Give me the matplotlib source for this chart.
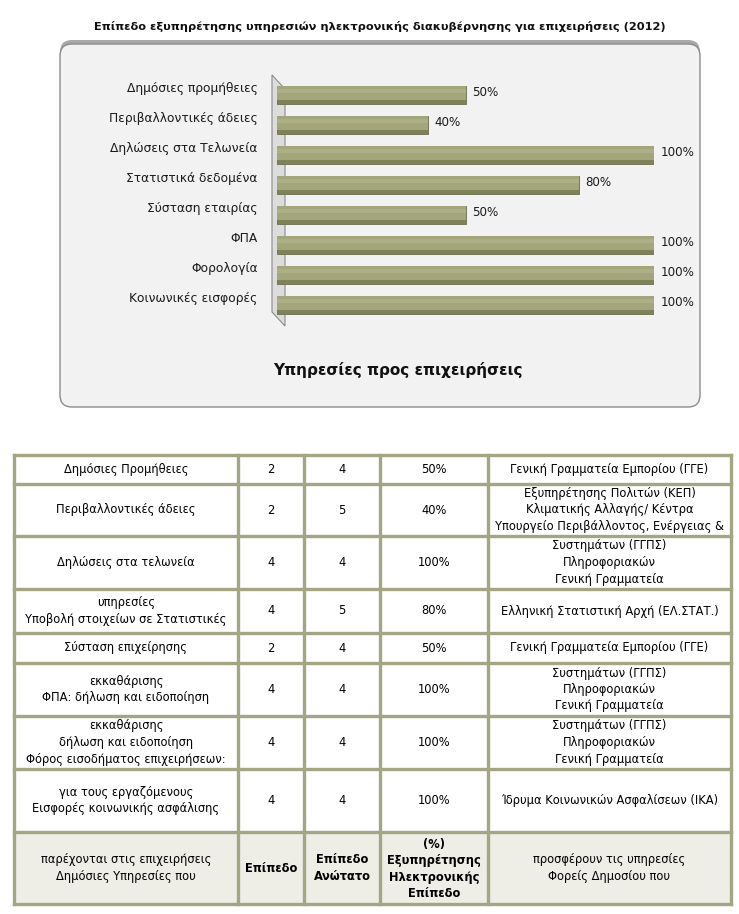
import matplotlib
matplotlib.use("Agg")
import matplotlib.pyplot as plt
from matplotlib.patches import FancyBboxPatch, Polygon, Rectangle

plt.rcParams['font.family'] = ['DejaVu Sans']

# ---------------- data ----------------
chart_title = "Επίπεδο εξυπηρέτησης υπηρεσιών ηλεκτρονικής διακυβέρνησης για επιχειρήσεις (2012)"
axis_title = "Υπηρεσίες προς επιχειρήσεις"
categories = ["Δημόσιες προμήθειες", "Περιβαλλοντικές άδειες", "Δηλώσεις στα Τελωνεία",
              "Στατιστικά δεδομένα", "Σύσταση εταιρίας", "ΦΠΑ", "Φορολογία",
              "Κοινωνικές εισφορές"]
values = [50, 40, 100, 80, 50, 100, 100, 100]

header_cells = ["παρέχονται στις επιχειρήσεις\nΔημόσιες Υπηρεσίες που",
                "Επίπεδο",
                "Επίπεδο\nΑνώτατο",
                "(%)\nΕξυπηρέτησης\nΗλεκτρονικής\nΕπίπεδο",
                "προσφέρουν τις υπηρεσίες\nΦορείς Δημοσίου που"]
services = ["Δημόσιες Προμήθειες",
            "Περιβαλλοντικές άδειες",
            "Δηλώσεις στα τελωνεία",
            "υπηρεσίες\nΥποβολή στοιχείων σε Στατιστικές",
            "Σύσταση επιχείρησης",
            "εκκαθάρισης\nΦΠΑ: δήλωση και ειδοποίηση",
            "εκκαθάρισης\nδήλωση και ειδοποίηση\nΦόρος εισοδήματος επιχειρήσεων:",
            "για τους εργαζόμενους\nΕισφορές κοινωνικής ασφάλισης"]
level = [2, 2, 4, 4, 2, 4, 4, 4]
max_level = [4, 5, 4, 5, 4, 4, 4, 4]
service_pct = ["50%", "40%", "100%", "80%", "50%", "100%", "100%", "100%"]
agencies = ["Γενική Γραμματεία Εμπορίου (ΓΓΕ)",
            "Εξυπηρέτησης Πολιτών (ΚΕΠ)\nΚλιματικής Αλλαγής/ Κέντρα\nΥπουργείο Περιβάλλοντος, Ενέργειας &",
            "Συστημάτων (ΓΓΠΣ)\nΠληροφοριακών\nΓενική Γραμματεία",
            "Ελληνική Στατιστική Αρχή (ΕΛ.ΣΤΑΤ.)",
            "Γενική Γραμματεία Εμπορίου (ΓΓΕ)",
            "Συστημάτων (ΓΓΠΣ)\nΠληροφοριακών\nΓενική Γραμματεία",
            "Συστημάτων (ΓΓΠΣ)\nΠληροφοριακών\nΓενική Γραμματεία",
            "Ίδρυμα Κοινωνικών Ασφαλίσεων (ΙΚΑ)"]

# ---------------- figure ----------------
W, H = 739, 914
fig = plt.figure(figsize=(W / 100, H / 100), dpi=100)
fig.patch.set_facecolor("white")

bg = fig.add_axes([0, 0, 1, 1])
bg.set_xlim(0, W)
bg.set_ylim(H, 0)
bg.axis("off")
bg.set_zorder(0)

# title
bg.text(380, 27, chart_title, ha="center", va="center", fontsize=8.2,
        fontweight="bold", color="#111111")

# chart panel (with shadow)
shadow = FancyBboxPatch((60, 40), 640, 367, boxstyle="round,pad=0,rounding_size=12",
                        facecolor="#a8a8a8", edgecolor="none", zorder=1)
bg.add_patch(shadow)
panel = FancyBboxPatch((60, 44), 640, 363, boxstyle="round,pad=0,rounding_size=12",
                       facecolor="#f2f2f2", edgecolor="#8c8c8c", linewidth=1.0, zorder=2)
bg.add_patch(panel)

# 3D back wall
wall = Polygon([(272, 75), (285, 89), (285, 326), (272, 312)], closed=True,
               facecolor="#dcdcdc", edgecolor="#8a8a8a", linewidth=0.8, zorder=3)
bg.add_patch(wall)

bg.text(398, 370, axis_title, ha="center", va="center", fontsize=11,
        fontweight="bold", color="#111111", zorder=4)

# ---------------- bar axes ----------------
x0, x1 = 277, 654
y_top, y_bot = 80, 320
ax = fig.add_axes([x0 / W, 1 - y_bot / H, (x1 - x0) / W, (y_bot - y_top) / H])
ax.set_zorder(2)
ax.patch.set_alpha(0)
ax.set_xlim(0, 100)
ax.set_ylim(len(categories) - 0.5, -0.5)
ax.axis("off")

pos = list(range(len(categories)))
ax.barh(pos, values, height=0.6, color="#7f8259", edgecolor="#6c6f4c", linewidth=0.6, zorder=2)
ax.barh([p - 0.06 for p in pos], values, height=0.46, color="#a2a67a",
        edgecolor="none", zorder=3)
ax.barh([p - 0.14 for p in pos], values, height=0.12, color="#adb086",
        edgecolor="none", zorder=4)

for p, c, v in zip(pos, categories, values):
    ax.annotate(c, xy=(0, p), xytext=(-14, 5), textcoords="offset points",
                ha="right", va="center", fontsize=8.8, color="#1a1a1a",
                annotation_clip=False)
    ax.annotate(f"{v}%", xy=(v, p), xytext=(5, 2), textcoords="offset points",
                ha="left", va="center", fontsize=8.6, color="#1a1a1a",
                annotation_clip=False)

# ---------------- table ----------------
col_edges = [14, 238, 304, 380, 488, 731]
row_edges = [455, 484, 536, 589, 633, 663, 716, 769, 832, 904]
line_col = "#a3a585"

# header background (last row)
bg.add_patch(Rectangle((col_edges[0], row_edges[-2]), col_edges[-1] - col_edges[0],
                       row_edges[-1] - row_edges[-2], facecolor="#eeeee7",
                       edgecolor="none", zorder=1))
for y in row_edges:
    bg.plot([col_edges[0], col_edges[-1]], [y, y], color=line_col, lw=2.4,
            solid_capstyle="projecting", zorder=2)
for x in col_edges:
    bg.plot([x, x], [row_edges[0], row_edges[-1]], color=line_col, lw=2.4,
            solid_capstyle="projecting", zorder=2)

cx = [(col_edges[i] + col_edges[i + 1]) / 2 for i in range(5)]
fs = 8.3
for r in range(len(services)):
    cy = (row_edges[r] + row_edges[r + 1]) / 2
    cells = [services[r], str(level[r]), str(max_level[r]), service_pct[r], agencies[r]]
    for c, txt in enumerate(cells):
        bg.text(cx[c], cy, txt, ha="center", va="center", fontsize=fs,
                linespacing=1.35, color="#000000", zorder=3)

hy = (row_edges[-2] + row_edges[-1]) / 2
for c, txt in enumerate(header_cells):
    bg.text(cx[c], hy + (1 if c == 3 else 0), txt, ha="center", va="center",
            fontsize=fs, linespacing=1.35, color="#000000",
            fontweight=("bold" if c in (1, 2, 3) else "normal"), zorder=3)

fig.savefig("out.png", dpi=100)
